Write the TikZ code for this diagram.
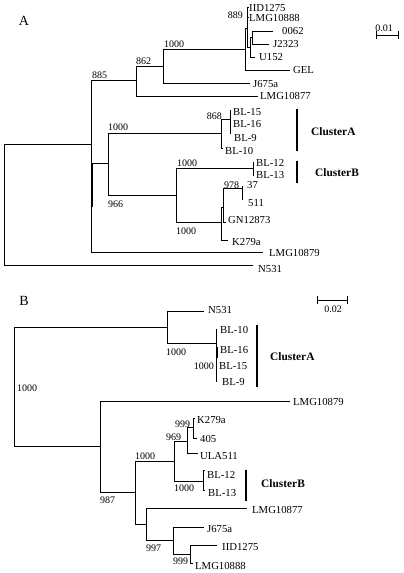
\documentclass[tikz,border=0pt]{standalone}
\usepackage{fontspec}
\setmainfont{Liberation Serif}
\begin{document}
\begin{tikzpicture}[x=1pt,y=-1pt,
  br/.style={line width=1pt},
  thk/.style={line width=2pt},
  clbar/.style={line width=2.5pt},
  lab/.style={anchor=west,inner sep=0pt,font=\fontsize{10.7}{12}\selectfont},
  bs/.style={anchor=west,inner sep=0pt,font=\fontsize{10}{11}\selectfont},
  bsr/.style={bs,anchor=east},
  clu/.style={anchor=west,inner sep=0pt,font=\fontsize{11.4}{13}\selectfont\bfseries},
  pan/.style={inner sep=0pt,font=\fontsize{14}{16}\selectfont}]
\useasboundingbox (0,0) rectangle (404,573);

% ---------------- Panel A ----------------
\node[pan] (PA) at (24,21) {A};
\coordinate (rA) at (4,204);
\coordinate (a885) at (91,144);
\coordinate (tN531a) at (253,265);
\coordinate (a862) at (136,80);
\coordinate (a966) at (108,163);
\coordinate (tLMG10879a) at (263,252);
\coordinate (a1000a) at (163,66);
\coordinate (tLMG10877a) at (258,96);
\coordinate (aX) at (245,49);
\coordinate (tJ675aa) at (250,83);
\coordinate (a889) at (247,28);
\coordinate (tGEL) at (290,70);
\coordinate (tIIDa) at (249,7);
\coordinate (tLMG10888a) at (249,17);
\coordinate (aY) at (250,47);
\coordinate (aZ) at (252,37);
\coordinate (tU152) at (255,57);
\coordinate (t0062) at (273,31);
\coordinate (tJ2323) at (269,44);
\coordinate (aCA) at (221,133);
\coordinate (a1000c) at (176,195);
\coordinate (a868) at (230,119);
\coordinate (tBL10a) at (223,148);
\coordinate (tBL15a) at (231,110);
\coordinate (tBL16a) at (231,124);
\coordinate (tBL9a) at (231,133);
\coordinate (aCB) at (253,168);
\coordinate (aP) at (221,222);
\coordinate (tBL12a) at (254,162);
\coordinate (tBL13a) at (254,175);
\coordinate (aQ) at (223,207);
\coordinate (tK279aa) at (228,240);
\coordinate (a978) at (242,188);
\coordinate (tGN) at (226,222);
\coordinate (t37) at (243,186);
\coordinate (t511) at (243,199);
\coordinate (thA1) at (92,163);
\coordinate (thA2) at (92,207);

\foreach \p/\c in {rA/a885, rA/tN531a, a885/a862, a885/a966, a885/tLMG10879a,
  a862/a1000a, a862/tLMG10877a, a1000a/aX, a1000a/tJ675aa, aX/a889, aX/tGEL,
  a889/tIIDa, a889/tLMG10888a, a889/aY, aY/aZ, aY/tU152, aZ/t0062, aZ/tJ2323,
  a966/aCA, a966/a1000c, aCA/a868, aCA/tBL10a, a868/tBL15a, a868/tBL16a, a868/tBL9a,
  a1000c/aCB, a1000c/aP, aCB/tBL12a, aCB/tBL13a, aP/aQ, aP/tK279aa,
  aQ/a978, aQ/tGN, a978/t37, a978/t511}
  \draw[br] (\p) |- (\c);
\draw[thk] (thA1) -- (thA2);

% bootstrap values A
\node[bs] (vA885) at (92,75) {885};
\node[bs] (vA862) at (136,61) {862};
\node[bs] (vA1000a) at (164,44) {1000};
\node[bsr] (vA889) at (243,15) {889};
\node[bs] (vA1000b) at (108,127) {1000};
\node[bs] (vA966) at (108,204) {966};
\node[bsr] (vA868) at (222,116) {868};
\node[bs] (vA1000c) at (177,163) {1000};
\node[bs] (vA1000d) at (176,231) {1000};
\node[bs] (vA978) at (224,185) {978};

% tip labels A
\node[lab] (LIIDa) at (249,8) {IID1275};
\node[lab] (LLMG10888a) at (249,18) {LMG10888};
\node[lab] (L0062) at (282,31) {0062};
\node[lab] (LJ2323) at (273,44) {J2323};
\node[lab] (LU152) at (259,57) {U152};
\node[lab] (LGEL) at (293,70) {GEL};
\node[lab] (LJ675aa) at (253,84) {J675a};
\node[lab] (LLMG10877a) at (260,96) {LMG10877};
\node[lab] (LBL15a) at (233,112) {BL-15};
\node[lab] (LBL16a) at (233,124) {BL-16};
\node[lab] (LBL9a) at (234,138) {BL-9};
\node[lab] (LBL10a) at (225,151) {BL-10};
\node[lab] (LBL12a) at (256,163) {BL-12};
\node[lab] (LBL13a) at (256,175) {BL-13};
\node[lab] (L37) at (247,185) {37};
\node[lab] (L511) at (248,203) {511};
\node[lab] (LGN) at (228,220) {GN12873};
\node[lab] (LK279aa) at (232,242) {K279a};
\node[lab] (LLMG10879a) at (269,253) {LMG10879};
\node[lab] (LN531a) at (258,269) {N531};

% clusters A
\coordinate (cAa1) at (297,109); \coordinate (cAa2) at (297,151);
\coordinate (cBa1) at (297,161); \coordinate (cBa2) at (297,183);
\draw[clbar] (cAa1) -- (cAa2);
\draw[clbar] (cBa1) -- (cBa2);
\node[clu] (CAa) at (311,132) {ClusterA};
\node[clu] (CBa) at (315,173) {ClusterB};

% scale A
\coordinate (sA1) at (376,35); \coordinate (sA2) at (399,35);
\draw[br,|-|] (sA1) -- (sA2);
\node[bs,anchor=center] (scA) at (384,28) {0.01};

% ---------------- Panel B ----------------
\node[pan] (PB) at (24,301) {B};
\coordinate (rB) at (14,386);
\coordinate (b1) at (167,327);
\coordinate (b2) at (100,446);
\coordinate (tN531b) at (204,311);
\coordinate (bCA) at (216,343);
\coordinate (tBL10b) at (217,329);
\coordinate (tBL16b) at (217,350);
\coordinate (tBL15b) at (217,366);
\coordinate (tBL9b) at (217,381);
\coordinate (tLMG10879b) at (290,401);
\coordinate (b3) at (135,492);
\coordinate (b4) at (174,461);
\coordinate (b5) at (146,524);
\coordinate (b6) at (187,441);
\coordinate (bCB) at (203,481);
\coordinate (b999) at (193,427);
\coordinate (tULA) at (198,453);
\coordinate (tK279ab) at (195,418);
\coordinate (t405) at (197,438);
\coordinate (tBL12b) at (205,470);
\coordinate (tBL13b) at (205,490);
\coordinate (tLMG10877b) at (247,508);
\coordinate (b7) at (173,540);
\coordinate (tJ675ab) at (204,527);
\coordinate (b8) at (190,554);
\coordinate (tIIDb) at (217,545);
\coordinate (tLMG10888b) at (193,563);
\coordinate (thB1) at (216.5,347);
\coordinate (thB2) at (216.5,358);

\foreach \p/\c in {rB/b1, rB/b2, b1/tN531b, b1/bCA, bCA/tBL10b, bCA/tBL16b,
  bCA/tBL15b, bCA/tBL9b, b2/tLMG10879b, b2/b3, b3/b4, b3/b5, b4/b6, b4/bCB,
  b6/b999, b6/tULA, b999/tK279ab, b999/t405, bCB/tBL12b, bCB/tBL13b,
  b5/tLMG10877b, b5/b7, b7/tJ675ab, b7/b8, b8/tIIDb, b8/tLMG10888b}
  \draw[br] (\p) |- (\c);
\draw[thk] (thB1) -- (thB2);

% bootstrap values B
\node[bs] (vB1000a) at (17,388) {1000};
\node[bs] (vB1000b) at (166,352) {1000};
\node[bsr] (vB1000c) at (214,366) {1000};
\node[bs] (vB987) at (100,500) {987};
\node[bs] (vB1000d) at (135,456) {1000};
\node[bs] (vB969) at (166,437) {969};
\node[bs] (vB1000e) at (174,488) {1000};
\node[bs] (vB999a) at (175,424) {999};
\node[bs] (vB997) at (146,548) {997};
\node[bs] (vB999b) at (173,561) {999};

% tip labels B
\node[lab] (LN531b) at (208,310) {N531};
\node[lab] (LBL10b) at (220,330) {BL-10};
\node[lab] (LBL16b) at (220,350) {BL-16};
\node[lab] (LBL15b) at (219,366) {BL-15};
\node[lab] (LBL9b) at (222,382) {BL-9};
\node[lab] (LLMG10879b) at (293,402) {LMG10879};
\node[lab] (LK279ab) at (197,420) {K279a};
\node[lab] (L405) at (200,439) {405};
\node[lab] (LULA) at (200,456) {ULA511};
\node[lab] (LBL12b) at (207,475) {BL-12};
\node[lab] (LBL13b) at (208,493) {BL-13};
\node[lab] (LLMG10877b) at (252,510) {LMG10877};
\node[lab] (LJ675ab) at (207,529) {J675a};
\node[lab] (LIIDb) at (222,547) {IID1275};
\node[lab] (LLMG10888b) at (195,566) {LMG10888};

% clusters B
\coordinate (cAb1) at (257,325); \coordinate (cAb2) at (257,387);
\coordinate (cBb1) at (246,470); \coordinate (cBb2) at (246,501);
\draw[clbar] (cAb1) -- (cAb2);
\draw[clbar] (cBb1) -- (cBb2);
\node[clu] (CAb) at (270,357) {ClusterA};
\node[clu] (CBb) at (261,484) {ClusterB};

% scale B
\coordinate (sB1) at (317,300); \coordinate (sB2) at (348,300);
\draw[br,|-|] (sB1) -- (sB2);
\node[bs,anchor=center] (scB) at (333,309) {0.02};
\end{tikzpicture}
\end{document}
